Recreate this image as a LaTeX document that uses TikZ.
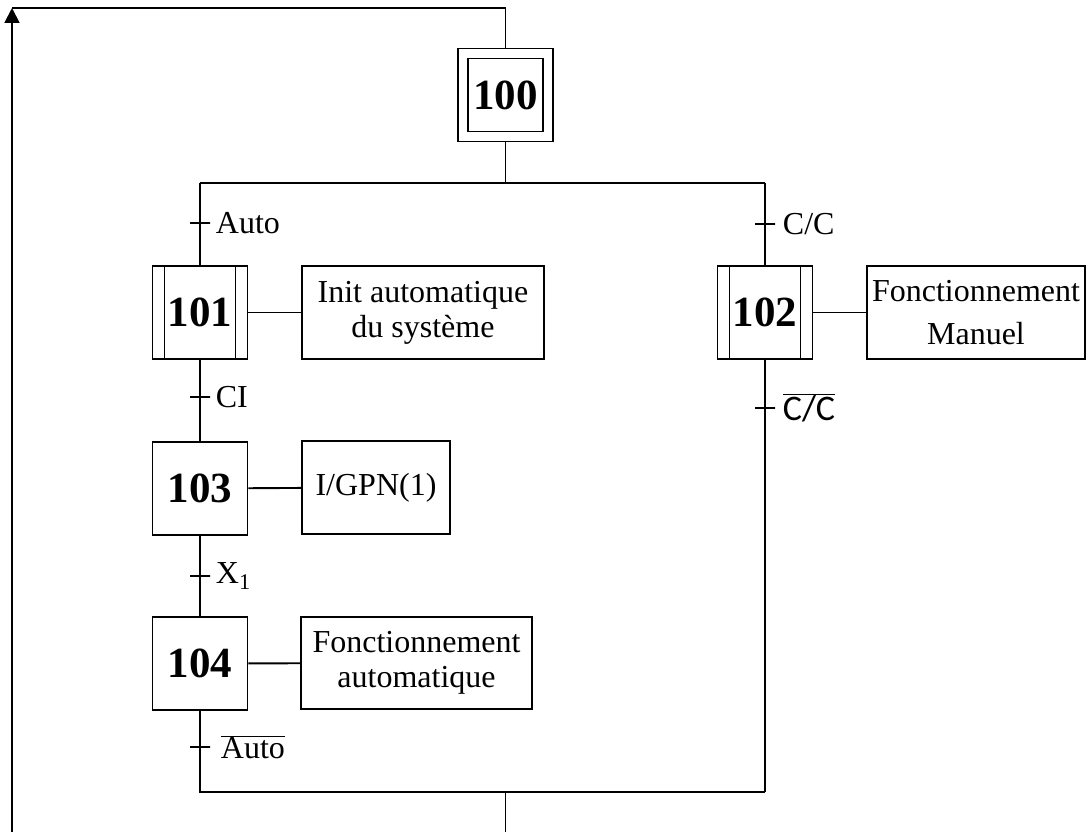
\documentclass[tikz,border=0pt]{standalone}
\usepackage{fontspec}
\setmainfont{Liberation Serif}
\newfontfamily\condfont{Carlito}
\usetikzlibrary{arrows.meta}

\begin{document}
\begin{tikzpicture}[x=1pt,y=1pt,line width=1.9pt,
    every node/.style={font=\fontsize{32}{35}\selectfont, inner sep=0pt},
    etape/.style={draw, minimum width=95pt, minimum height=93pt, font=\fontsize{43}{48}\selectfont\bfseries},
    etapeinit/.style={etape, path picture={\draw ([shift={(10pt,-10pt)}]path picture bounding box.north west) rectangle ([shift={(-10pt,10pt)}]path picture bounding box.south east);}},
    macro/.style={etape, path picture={
        \draw ([xshift=12pt]path picture bounding box.north west) -- ([xshift=12pt]path picture bounding box.south west);
        \draw ([xshift=-12pt]path picture bounding box.north east) -- ([xshift=-12pt]path picture bounding box.south east);}},
    action/.style={draw, align=center, minimum height=93pt},
    trans/.style={draw, minimum width=20pt, minimum height=0pt},
    lbl/.style={label distance=4pt}]

    % page frame
    \useasboundingbox (0,0) rectangle (1088,-832);

    % steps
    \node[etapeinit] (s100) at (505.5,-95) {100};
    \node[macro] (s101) at (200,-312.5) {101};
    \node[macro] (s102) at (765,-312.5) {102};
    \node[etape] (s103) at (200,-488.5) {103};
    \node[etape] (s104) at (200,-663.5) {104};

    % actions
    \node[action, minimum width=242pt] (a101) at (423,-312.5) {Init automatique\\du système};
    \node[action, minimum width=218pt] (a102) at (976,-312.5) {Fonctionnement\\[8pt]Manuel};
    \node[action, minimum width=148pt] (a103) at (376,-487.5) {I/GPN(1)};
    \node[action, minimum width=231pt, minimum height=92pt] (a104) at (416.5,-663) {Fonctionnement\\automatique};

    % transitions
    \node[trans, label={[lbl]right:Auto}] (t1) at (200,-223) {};
    \node[trans, label={[lbl]right:CI}] (t2) at (200,-397) {};
    \node[trans, label={[lbl]right:X\textsubscript{1}}] (t3) at (200,-576) {};
    \node[trans, label={[lbl,label distance=6pt]right:C/C}] (t4) at (765,-224) {};
    \node[trans, label={[lbl,label distance=6pt]right:$\overline{\hbox{\condfont\fontsize{36}{38}\selectfont C/C}}$}] (t5) at (765,-408) {};
    \node[trans, label={[lbl,label distance=9pt]right:$\overline{\hbox{Auto}}$}] (t6) at (200,-747) {};

    % divergence / convergence points
    \coordinate (jtop) at (505.5,-183);
    \coordinate (jtopL) at (200,-183);
    \coordinate (jtopR) at (765,-183);
    \coordinate (jbot) at (505.5,-792);
    \coordinate (jbotL) at (200,-792);
    \coordinate (jbotR) at (765,-792);
    \coordinate (exitB) at (505.5,-832);
    \coordinate (loopB) at (12,-832);
    \coordinate (loopT) at (12,-8);
    \coordinate (topC) at (505.5,-8);

    % links
    \draw (s100) -- (jtop);
    \draw (jtopL) -- (jtopR);
    \draw (jtopL) -- (t1) -- (s101);
    \draw (s101) -- (t2) -- (s103);
    \draw (s103) -- (t3) -- (s104);
    \draw (s104) -- (t6) -- (jbotL) -- (jbotR);
    \draw (jtopR) -- (t4) -- (s102);
    \draw (s102) -- (t5) -- (jbotR);
    \draw (jbot) -- (exitB);
    \draw[-{Triangle[length=15pt,width=15pt]}] (loopB) -- (loopT);
    \draw (loopT) -- (topC) -- (s100);

    % actions links
    \draw (s101) -- (a101);
    \draw (s102) -- (a102);
    \draw (s103) -- (a103);
    \draw (s104) -- (a104);
\end{tikzpicture}
\end{document}
